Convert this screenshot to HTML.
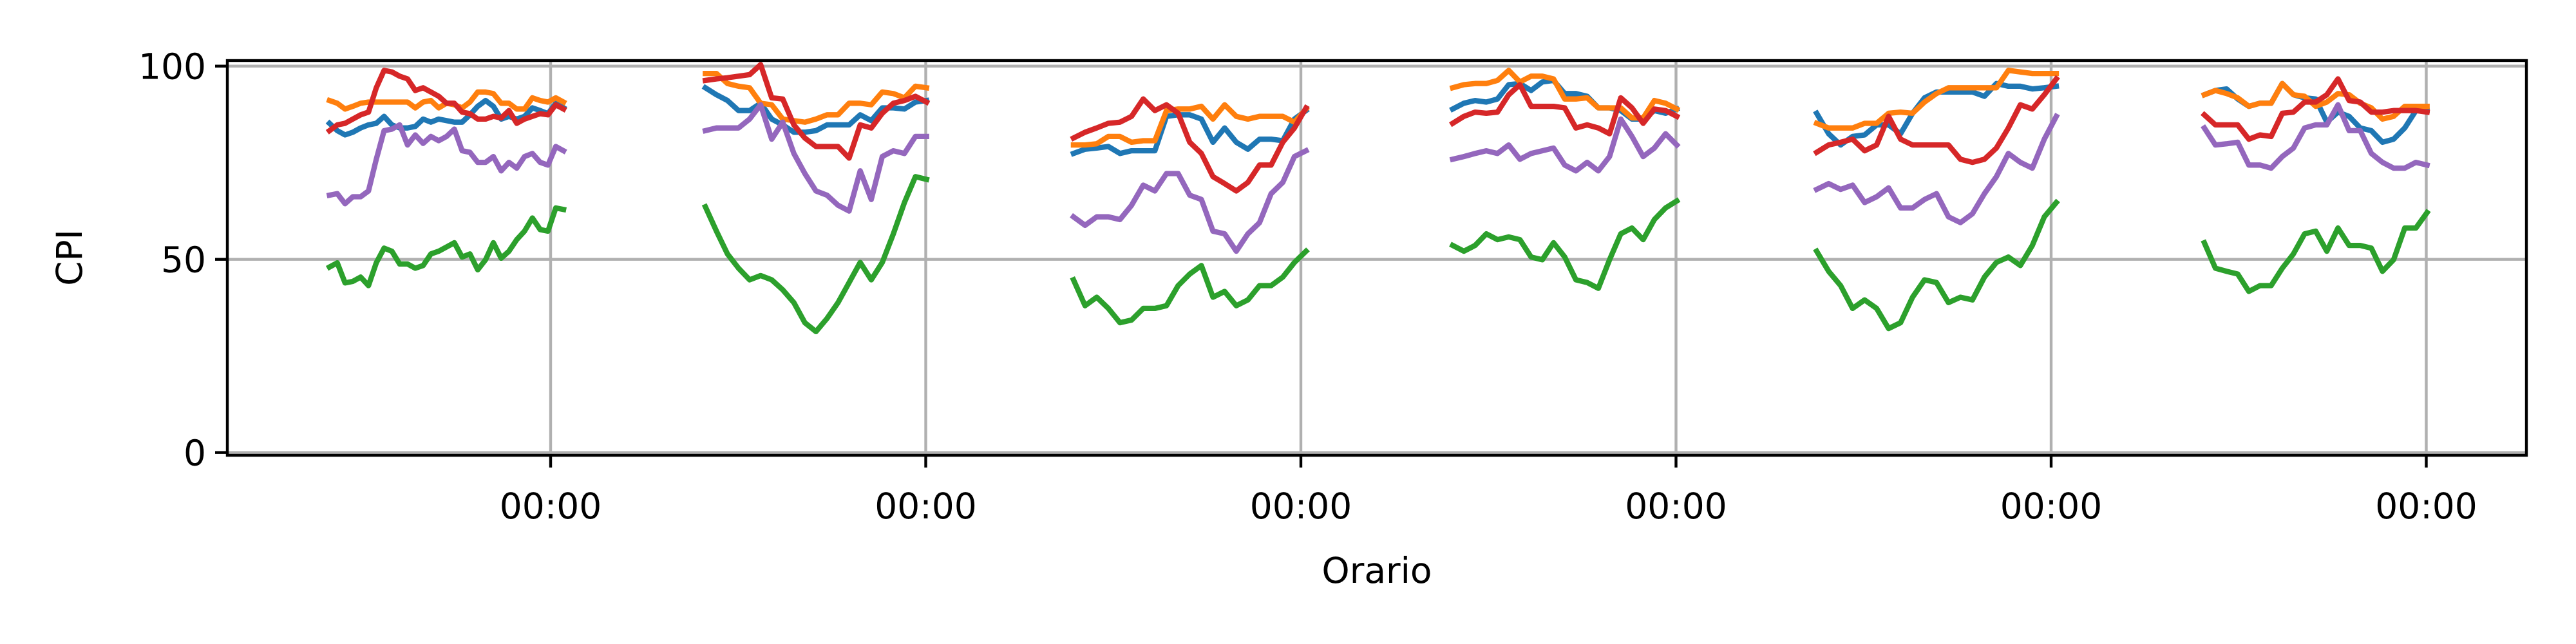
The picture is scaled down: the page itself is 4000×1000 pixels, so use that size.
<!DOCTYPE html>
<html><head><meta charset="utf-8"><style>html,body{margin:0;padding:0;background:#fff}svg{display:block}</style></head>
<body>
<svg id="chart" xmlns="http://www.w3.org/2000/svg" width="4000" height="1000" viewBox="0 0 4000 1000" font-family="'DejaVu Sans','Liberation Sans',sans-serif">
<rect x="0" y="0" width="4000" height="1000" fill="#fff"/>
<g id="grid"></g>
<g id="series"></g>
<g id="axes"></g>
</svg>
<script>
const dayStart = [-14.15, -14.1, -14.55, -14.29, -15.0, -14.2];
const dayEnd = [0.83, 0.05, 0.33, 0.05, 0.33, 0.05];
const yTicks = [0, 50, 100];
const xTickLabels = ["00:00","00:00","00:00","00:00","00:00","00:00"];
const seriesNames = ["blue","orange","green","red","purple"];
const seriesColors = ["#1f77b4","#ff7f0e","#2ca02c","#d62728","#9467bd"];
const blueData = [
 [85.2,83.3,82.2,82.9,84.0,84.8,85.2,87.0,84.8,84.0,84.0,84.4,86.3,85.5,86.3,85.9,85.5,85.5,87.4,89.6,91.1,89.6,86.3,87.0,86.3,87.0,89.2,88.5,87.7,90.4,89.2],
 [94.4,92.6,91.1,88.5,88.5,90.4,86.3,84.8,82.9,82.9,83.3,84.8,84.8,84.8,87.4,85.9,89.2,89.2,88.9,90.7,91.1],
 [77.4,78.5,78.8,79.2,77.4,78.1,78.1,78.1,87.0,87.4,87.4,86.3,80.3,84.0,80.3,78.5,81.1,81.1,80.7,86.3,88.5],
 [88.9,90.4,91.1,90.7,91.5,95.2,95.5,93.7,95.9,96.3,92.9,92.9,92.2,89.2,89.2,88.5,86.3,86.3,88.5,87.8,88.9],
 [87.8,82.5,79.6,81.8,82.2,84.8,84.8,82.5,87.8,91.8,93.3,93.3,93.3,93.3,92.2,95.5,94.8,94.8,94.1,94.4,94.8],
 [92.6,93.7,94.1,91.5,89.6,90.4,90.4,95.5,92.6,91.8,91.5,85.5,88.1,87.0,84.0,83.3,80.3,81.1,84.0,88.5,88.5]
];
const orangeData = [
 [91.1,90.4,88.9,89.6,90.4,90.7,90.7,90.7,90.7,90.7,90.7,89.2,90.7,91.1,89.2,90.4,90.0,89.2,90.7,93.3,93.3,92.9,90.4,90.4,88.9,88.9,91.8,91.1,90.7,91.8,90.7],
 [98.1,98.1,95.5,94.8,94.4,90.4,90.0,86.3,85.9,85.5,86.3,87.4,87.4,90.4,90.4,90.0,93.3,92.9,91.8,94.8,94.4],
 [79.6,79.6,79.9,81.8,81.8,80.3,80.7,80.7,88.5,88.9,88.9,89.6,86.3,90.0,87.0,86.3,87.0,87.0,87.0,85.5,88.9],
 [94.4,95.2,95.5,95.5,96.3,98.9,95.9,97.4,97.4,96.7,91.5,91.5,91.8,89.2,89.2,89.2,86.6,86.6,91.1,90.4,88.9],
 [85.2,84.0,84.0,84.0,85.2,85.2,87.8,88.1,87.8,90.7,92.9,94.4,94.4,94.4,94.4,94.4,98.9,98.5,98.1,98.1,98.1],
 [92.6,93.7,92.9,91.8,89.6,90.4,90.4,95.5,92.6,92.2,89.6,90.7,92.9,92.6,90.4,89.2,86.3,87.0,89.6,89.6,89.6]
];
const greenData = [
 [48.0,49.1,43.9,44.3,45.4,43.2,49.1,52.9,52.1,48.8,48.8,47.7,48.4,51.4,52.1,53.2,54.3,50.6,51.4,47.3,49.9,54.3,50.3,52.1,55.1,57.3,60.7,57.7,57.3,63.3,62.9],
 [63.6,57.3,51.4,47.7,44.7,45.8,44.7,42.1,38.8,33.6,31.3,34.7,38.8,44.0,49.2,44.7,49.2,56.6,64.7,71.4,70.7],
 [44.7,38.0,40.2,37.3,33.6,34.3,37.3,37.3,38.0,43.2,46.2,48.4,40.2,41.7,38.0,39.5,43.2,43.2,45.4,49.2,52.1],
 [53.6,52.1,53.6,56.6,55.1,55.8,55.1,50.6,49.9,54.3,50.6,44.7,44.0,42.5,49.9,56.6,58.1,55.1,60.3,63.3,65.1],
 [52.1,46.9,43.2,37.3,39.5,37.3,32.1,33.6,40.2,44.7,44.0,38.8,40.2,39.5,45.4,49.2,50.6,48.4,53.6,61.0,64.7],
 [54.3,47.7,46.9,46.2,41.7,43.2,43.2,47.7,51.4,56.6,57.3,52.1,58.1,53.6,53.6,52.9,46.9,49.9,58.1,58.1,62.1]
];
const redData = [
 [83.3,84.8,85.2,86.3,87.4,88.1,94.4,98.9,98.5,97.4,96.7,93.7,94.4,93.3,92.2,90.4,90.4,88.1,87.7,86.3,86.3,87.0,86.6,88.5,85.2,86.3,87.0,87.7,87.4,90.0,88.9],
 [96.3,96.7,97.0,97.4,97.8,100.4,91.8,91.5,84.8,81.4,79.2,79.2,79.2,76.2,84.8,84.0,87.8,90.4,91.1,92.2,90.7],
 [81.4,82.9,84.0,85.2,85.5,87.0,91.5,88.5,90.0,87.8,80.3,77.4,71.4,69.6,67.7,69.9,74.4,74.4,80.3,84.0,89.2],
 [85.2,87.0,88.1,87.8,88.1,92.6,95.2,89.6,89.6,89.6,89.2,84.0,84.8,84.0,82.5,91.8,89.2,85.2,88.9,88.5,87.0],
 [77.7,79.6,80.3,81.1,78.1,79.6,87.0,81.1,79.6,79.6,79.6,79.6,75.9,75.1,75.9,78.8,84.0,90.0,88.9,92.6,96.7],
 [87.4,84.8,84.8,84.8,81.1,82.2,81.8,87.8,88.1,90.7,90.7,92.6,96.7,91.1,90.7,88.1,88.1,88.5,88.5,88.5,88.1]
];
const purpleData = [
 [66.6,67.0,64.4,66.2,66.2,67.7,75.9,83.3,83.7,84.8,79.6,82.2,80.0,81.8,80.7,81.8,83.7,78.1,77.7,75.1,75.1,76.6,72.9,75.1,73.6,76.6,77.4,75.1,74.4,79.2,78.1],
 [83.3,84.0,84.0,84.0,86.3,90.0,81.1,85.5,77.4,72.2,67.7,66.6,64.0,62.5,72.9,65.5,76.6,78.1,77.4,81.8,81.8],
 [61.0,58.8,61.0,61.0,60.3,64.0,69.2,67.7,72.2,72.2,66.6,65.5,57.3,56.6,52.1,56.6,59.5,67.0,69.9,76.6,78.1],
 [75.9,76.6,77.4,78.1,77.4,79.6,75.9,77.4,78.1,78.8,74.4,72.9,75.1,72.9,76.6,86.3,81.8,76.6,78.8,82.5,79.6],
 [68.1,69.6,68.1,69.2,64.7,66.2,68.5,63.3,63.3,65.5,67.0,61.0,59.5,61.8,67.0,71.4,77.4,75.1,73.6,81.1,87.0],
 [84.0,79.6,79.9,80.3,74.4,74.4,73.6,76.6,78.8,84.0,84.8,84.8,90.0,83.3,83.3,77.4,75.1,73.6,73.6,75.1,74.4]
];
const allSeries = [blueData, orangeData, greenData, redData, purpleData];

const NS = "http://www.w3.org/2000/svg";
const L = 353, R = 3923, T = 94, B = 707;
const Y0 = 702.7, YK = 6.0;
function yScale(v){ return Y0 - v*YK; }
function xScale(day, hour){ return 855 + 582.5*(day + hour/24); }
function mk(tag, attrs, parent){ const e=document.createElementNS(NS,tag); for(const k in attrs) e.setAttribute(k,attrs[k]); parent.appendChild(e); return e; }

const grid=document.getElementById('grid'), ser=document.getElementById('series'), axes=document.getElementById('axes');
for (let i=0;i<yTicks.length;i++){
  const y=yScale(yTicks[i]);
  const g=mk('line',{x1:L,x2:R,y1:y,y2:y,stroke:'#b0b0b0','stroke-width':4.4},grid);
  
  
}
for (let d=0; d<xTickLabels.length; d++){
  const x=xScale(d,0);
  const g=mk('line',{x1:x,x2:x,y1:T,y2:B,stroke:'#b0b0b0','stroke-width':4.4},grid);
  
  
}
for (let s=0;s<allSeries.length;s++){
  for (let d=0; d<allSeries[s].length; d++){
    const vals=allSeries[s][d], n=vals.length;
    const pts=vals.map((v,i)=>{ const h=dayStart[d]+(dayEnd[d]-dayStart[d])*i/(n-1); return xScale(d,h).toFixed(1)+','+yScale(v).toFixed(1); }).join(' ');
    const p=mk('polyline',{points:pts,fill:'none',stroke:seriesColors[s],'stroke-width':8.3,'stroke-linejoin':'round','stroke-linecap':'square'},ser);
    
    
  }
}
const frame=mk('rect',{x:L,y:T,width:R-L,height:B-T,fill:'none',stroke:'#000','stroke-width':4.4},axes);


for (let i=0;i<yTicks.length;i++){
  const y=yScale(yTicks[i]);
  const t=mk('line',{x1:L-19,x2:L,y1:y,y2:y,stroke:'#000','stroke-width':4.4},axes);
  
  
  const lb=mk('text',{x:L-33,y:y+20,'text-anchor':'end','font-size':55,fill:'#000'},axes);
  lb.textContent=String(yTicks[i]);
  
  
}
for (let d=0; d<xTickLabels.length; d++){
  const x=xScale(d,0);
  const t=mk('line',{x1:x,x2:x,y1:B,y2:B+19,stroke:'#000','stroke-width':4.4},axes);
  
  
  const lb=mk('text',{x:x,y:B+98,'text-anchor':'middle','font-size':55,fill:'#000'},axes);
  lb.textContent=xTickLabels[d];
  
  
}
const xt=mk('text',{x:(L+R)/2,y:905,'text-anchor':'middle','font-size':55,fill:'#000'},axes);
xt.textContent='Orario';


const yt=mk('text',{x:0,y:0,'text-anchor':'middle','font-size':55,fill:'#000',transform:'translate(127,400) rotate(-90)'},axes);
yt.textContent='CPI';


</script>
</body></html>
